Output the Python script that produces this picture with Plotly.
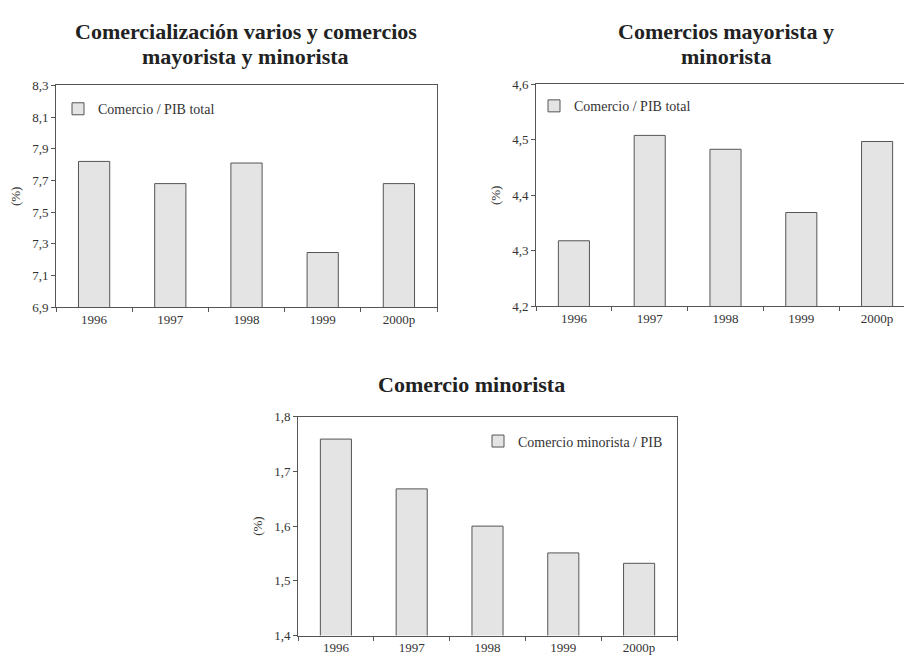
import plotly.graph_objects as go

years = ["1996", "1997", "1998", "1999", "2000p"]
comercializacion = [7.82, 7.68, 7.81, 7.245, 7.68]
mayor_minor = [4.318, 4.508, 4.483, 4.369, 4.497]
minorista = [1.759, 1.668, 1.600, 1.551, 1.532]

title_lines = [["Comercialización varios y comercios", "mayorista y minorista"],
               ["Comercios mayorista y", "minorista"],
               ["Comercio minorista"]]
legend_names = ["Comercio / PIB total", "Comercio / PIB total", "Comercio minorista / PIB"]
y_ranges = [[6.9, 8.3], [4.2, 4.6], [1.4, 1.8]]
y_dtick = [0.2, 0.1, 0.1]

W, H = 912, 659
def px_x(a, b):
    return [a / W, b / W]
def px_y(top, bottom):
    return [1 - bottom / H, 1 - top / H]

x_domains = [px_x(48, 429), px_x(528, 907), px_x(290, 669)]
y_domains = [px_y(72, 299), px_y(71, 298), px_y(411, 635)]

FONT = "Liberation Serif"
BAR_FILL = "#e4e4e4"
LINE = "#555555"
TXT = "#333333"

fig = go.Figure()
series = [comercializacion, mayor_minor, minorista]
for i, vals in enumerate(series):
    sfx = "" if i == 0 else str(i + 1)
    fig.add_trace(go.Bar(
        x=years, y=vals, name=legend_names[i],
        xaxis="x" + sfx, yaxis="y" + sfx,
        legend="legend" + sfx,
        width=0.41,
        marker=dict(color=BAR_FILL, line=dict(color=LINE, width=1)),
        showlegend=True,
    ))

layout = dict(
    width=W, height=H,
    margin=dict(l=0, r=0, t=0, b=0),
    paper_bgcolor="white", plot_bgcolor="white",
    separators=",.",
    font=dict(family=FONT, size=13, color=TXT),
)

for i in range(3):
    sfx = "" if i == 0 else str(i + 1)
    layout["xaxis" + sfx] = dict(
        domain=x_domains[i], anchor="y" + sfx,
        showline=True, linecolor=LINE, linewidth=1, mirror=True,
        ticks="outside", ticklen=4, tickcolor=LINE, tickson="boundaries",
        showgrid=False, tickfont=dict(family=FONT, size=13, color=TXT),
        fixedrange=True,
    )
    layout["yaxis" + sfx] = dict(
        domain=y_domains[i], anchor="x" + sfx,
        range=y_ranges[i], dtick=y_dtick[i], tick0=y_ranges[i][0],
        tickformat=".1f",
        showline=True, linecolor=LINE, linewidth=1, mirror=True,
        ticks="outside", ticklen=4, tickcolor=LINE,
        showgrid=False, zeroline=False,
        tickfont=dict(family=FONT, size=13, color=TXT),
        title=dict(text="(%)", font=dict(family=FONT, size=13, color=TXT), standoff=8),
    )

leg_common = dict(bgcolor="rgba(0,0,0,0)", font=dict(family=FONT, size=14, color=TXT),
                  itemwidth=30)
layout["legend"] = dict(x=50 / W, y=1 - 80 / H, xanchor="left", yanchor="top", **leg_common)
layout["legend2"] = dict(x=526 / W, y=1 - 77 / H, xanchor="left", yanchor="top", **leg_common)
layout["legend3"] = dict(x=660 / W, y=1 - 420 / H, xanchor="right", yanchor="top", **leg_common)

title_pos = [(238, [17, 42]), (718, [17, 42]), (463, [378])]
annotations = []
for i, (tx, tys) in enumerate(title_pos):
    for line, ty in zip(title_lines[i], tys):
        annotations.append(dict(
            text="<b>" + line + "</b>", x=tx / W, y=1 - ty / H,
            xref="paper", yref="paper", xanchor="center", yanchor="middle",
            showarrow=False, font=dict(family=FONT, size=22, color="#222222"),
        ))
layout["annotations"] = annotations

fig.update_layout(**layout)
fig.write_html("out.html")
